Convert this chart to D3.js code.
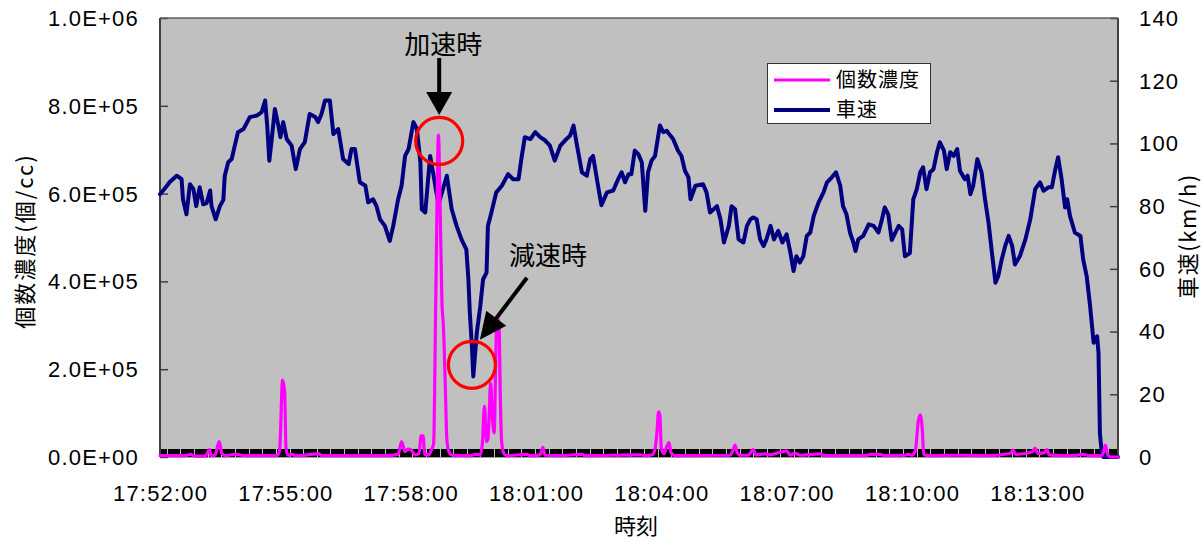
<!DOCTYPE html>
<html>
<head>
<meta charset="utf-8">
<script src="https://cdn.jsdelivr.net/npm/d3@7"></script>
<style>
  html, body { margin: 0; padding: 0; background: #fff; }
  svg { display: block; }
  .num { font-family: "Liberation Sans", Arial, sans-serif; font-size: 22px; fill: #000; letter-spacing: 1.2px; }
  .jp { font-family: "Noto Sans CJK JP", sans-serif; fill: #000; }
</style>
</head>
<body>
<svg id="chart" width="1202" height="541"></svg>
<script>
// Time axis: seconds elapsed since 17:52:00
const timeLabels = ["17:52:00", "17:55:00", "17:58:00", "18:01:00", "18:04:00", "18:07:00", "18:10:00", "18:13:00"];
const timeLabelSec = [0, 180, 360, 540, 720, 900, 1080, 1260];
const concTicks = [0, 2e5, 4e5, 6e5, 8e5, 1e6];
const speedTicks = [0, 20, 40, 60, 80, 100, 120, 140];

// Vehicle speed (km/h)
const speedSec = [0, 10, 14, 24, 31, 33, 38, 43, 48, 52, 57, 62, 67, 72, 74, 80, 86, 91, 93, 98, 103, 105, 112, 120, 129, 139, 146, 151, 154, 157, 160, 165, 170, 173, 177, 182, 189, 195, 201, 208, 215, 223, 227, 232, 237, 244, 249, 256, 263, 271, 275, 280, 287, 295, 299, 306, 311, 316, 323, 330, 335, 342, 347, 352, 357, 364, 369, 374, 376, 381, 388, 393, 397, 400, 405, 412, 419, 426, 433, 440, 443, 445, 448, 450, 455, 460, 464, 469, 471, 476, 483, 491, 500, 507, 515, 519, 524, 532, 539, 546, 553, 560, 567, 575, 582, 589, 594, 599, 606, 613, 618, 622, 630, 634, 642, 651, 658, 663, 668, 673, 677, 682, 687, 692, 697, 701, 706, 711, 718, 723, 728, 733, 737, 744, 749, 754, 759, 762, 769, 780, 785, 790, 800, 805, 810, 817, 821, 826, 831, 838, 843, 848, 852, 857, 862, 867, 871, 877, 882, 888, 894, 900, 905, 910, 914, 919, 924, 929, 934, 939, 946, 953, 958, 965, 971, 977, 981, 986, 991, 996, 999, 1003, 1010, 1018, 1025, 1032, 1037, 1041, 1046, 1051, 1061, 1066, 1070, 1077, 1082, 1087, 1092, 1096, 1101, 1106, 1111, 1116, 1120, 1126, 1130, 1135, 1140, 1145, 1149, 1156, 1160, 1164, 1168, 1174, 1180, 1185, 1190, 1195, 1200, 1204, 1209, 1214, 1219, 1224, 1228, 1235, 1243, 1250, 1257, 1264, 1269, 1276, 1281, 1286, 1290, 1295, 1300, 1303, 1307, 1314, 1322, 1326, 1331, 1336, 1341, 1346, 1348, 1350, 1353, 1355, 1376];
const speedKmh = [83.8, 86.5, 87.7, 89.7, 88.6, 82.2, 77.4, 87, 85.4, 80, 86, 80.6, 81, 85, 80, 75.8, 80, 82, 89.7, 94, 95, 97, 103.6, 104.6, 108.4, 108.9, 110, 113.7, 105.7, 94.5, 100.4, 111, 105.7, 102, 106.8, 101.4, 99.3, 91.8, 98.2, 100.4, 109.4, 108.4, 106.8, 109.4, 113.7, 113.7, 103, 104.6, 95, 93.4, 98.2, 98.2, 87.6, 86.5, 81.2, 82.2, 80, 75.8, 73.7, 68.9, 73.7, 82.2, 86.5, 96, 98.2, 106.8, 104.6, 94, 79, 78, 96, 89.7, 84.4, 80.6, 84.4, 89.7, 79, 73.7, 69.4, 66.2, 56.6, 46, 35.3, 25.7, 39.6, 48, 56.6, 58.8, 73.7, 78, 84.4, 86.5, 90.2, 88.6, 88.6, 95, 102, 101.4, 103.6, 102, 101, 99.3, 94.5, 99.3, 101, 102.5, 105.7, 99.3, 90.8, 89.7, 95, 96, 85.4, 80.3, 84.4, 85, 88.6, 90.8, 87.6, 90.2, 90.2, 97.7, 96.6, 94, 78.5, 90.8, 94.5, 96, 105.7, 103.6, 104, 102.5, 101.4, 97.7, 96, 91.3, 89.2, 82.2, 86.5, 87, 84.4, 78, 80, 75.8, 68.4, 73.7, 80, 79, 69.4, 68.4, 73.7, 75.8, 76.4, 75.8, 69.4, 67.3, 69.4, 73.7, 69.4, 72.1, 68.4, 71, 65.7, 59.3, 64, 62, 64, 70.5, 71.6, 76.9, 81.2, 84.4, 87.6, 89.2, 90.8, 86.5, 80, 77.4, 71.6, 68.4, 65.7, 69.4, 70.5, 74.2, 73.7, 71.6, 75.8, 79.6, 77.4, 69.2, 73.7, 72.6, 64, 65, 82.2, 85.4, 90.8, 92.4, 85.4, 90.8, 91.8, 97.2, 100.4, 97.7, 91.8, 97.2, 96, 98.2, 91.3, 88.6, 89.7, 83.8, 86.5, 95, 90.8, 82.2, 74.8, 65, 55.6, 57.7, 63, 67.3, 70.5, 67.3, 61.4, 64, 69.4, 75.8, 85.4, 87.6, 84.9, 86, 86, 91.8, 95.6, 88.6, 79.6, 82.2, 76.9, 71.6, 70.5, 63, 57.7, 48, 36.4, 38.5, 33.2, 7.6, 0.6, 0, 0];

// Particle number concentration (particles/cc)
const concSec = [0, 36, 44, 50, 65, 71, 73, 79, 85, 89, 93, 108, 122, 151, 169, 172, 176, 179, 181, 184, 190, 195, 228, 233, 313, 323, 342, 347, 352, 356, 361, 366, 372, 375, 378, 380, 386, 390, 393, 396, 400, 402, 405, 407, 410, 412, 415, 420, 445, 454, 460, 463, 466, 469, 471, 475, 477, 480, 482, 484, 487, 489, 491, 494, 498, 527, 532, 546, 550, 553, 575, 606, 611, 690, 697, 707, 711, 714, 716, 718, 720, 724, 727, 731, 734, 740, 819, 822, 826, 829, 833, 845, 852, 856, 869, 876, 900, 905, 912, 919, 948, 955, 1013, 1020, 1034, 1041, 1070, 1075, 1080, 1085, 1089, 1092, 1095, 1097, 1106, 1149, 1185, 1221, 1225, 1229, 1253, 1257, 1261, 1270, 1274, 1277, 1314, 1324, 1336, 1352, 1355, 1358, 1361, 1365, 1376];
const concVal = [3000, 3000, 6000, 2000, 2000, 17000, 3000, 4000, 35000, 8000, 3000, 6000, 3000, 3000, 4000, 20000, 175000, 150000, 20000, 4000, 6000, 3000, 7000, 3000, 3000, 3000, 6000, 35000, 12000, 18000, 16000, 5000, 8000, 48000, 48000, 6000, 5000, 17000, 30000, 350000, 733000, 600000, 350000, 300000, 150000, 40000, 12000, 4000, 3000, 6000, 5000, 30000, 116000, 35000, 40000, 168000, 100000, 55000, 200000, 320000, 300000, 120000, 30000, 8000, 3000, 6000, 3000, 5000, 22000, 4000, 3000, 6000, 3000, 5000, 3000, 5000, 18000, 60000, 103000, 95000, 20000, 8000, 20000, 33000, 10000, 3000, 4000, 12000, 27000, 10000, 4000, 4000, 17000, 5000, 7000, 5000, 14000, 4000, 9000, 4000, 7000, 3000, 3000, 6000, 6000, 3000, 4000, 6000, 4000, 15000, 80000, 96000, 60000, 5000, 3000, 4000, 3000, 8000, 16000, 6000, 12000, 20000, 8000, 10000, 17000, 5000, 3000, 6000, 3000, 3000, 10000, 27000, 6000, 0, 0];

const plot = { left: 160, right: 1118, top: 18, bottom: 457 };
const svg = d3.select("#chart");

const x = d3.scaleLinear().domain([0, 1376]).range([plot.left, plot.right]);
const yConc = d3.scaleLinear().domain([0, 1e6]).range([plot.bottom, plot.top]);
const ySpeed = d3.scaleLinear().domain([0, 140]).range([plot.bottom, plot.top]);

const sci = v => {
  if (v === 0) return "0.0E+00";
  const e = Math.floor(Math.log10(v));
  const m = v / Math.pow(10, e);
  return m.toFixed(1) + "E+" + String(e).padStart(2, "0");
};

// plot area
svg.append("rect")
  .attr("x", plot.left).attr("y", plot.top)
  .attr("width", plot.right - plot.left).attr("height", plot.bottom - plot.top)
  .attr("fill", "#c0c0c0");

// dense category ticks along the time axis
const catStep = 1.55;
const xTickAxis = d3.axisBottom(x)
  .tickValues(d3.range(0, 1376, catStep))
  .tickSize(-8).tickFormat("");
const gx = svg.append("g").attr("transform", `translate(0,${plot.bottom})`).call(xTickAxis);
gx.selectAll("line").attr("stroke", "#000").attr("shape-rendering", "crispEdges");
gx.select(".domain").attr("stroke", "#a0a0a0");

// value axis ticks (pointing inside)
const gl = svg.append("g").attr("transform", `translate(${plot.left},0)`)
  .call(d3.axisLeft(yConc).tickValues(concTicks).tickSize(-8).tickFormat(""));
gl.selectAll("line").attr("stroke", "#404040").attr("stroke-width", 1.5);
gl.select(".domain").remove();

const gr = svg.append("g").attr("transform", `translate(${plot.right},0)`)
  .call(d3.axisRight(ySpeed).tickValues(speedTicks).tickSize(-8).tickFormat(""));
gr.selectAll("line").attr("stroke", "#404040").attr("stroke-width", 1.5);
gr.select(".domain").remove();

// frame lines
svg.append("line").attr("x1", plot.left).attr("x2", plot.left).attr("y1", plot.top).attr("y2", plot.bottom)
  .attr("stroke", "#404040").attr("stroke-width", 2);
svg.append("line").attr("x1", plot.right).attr("x2", plot.right).attr("y1", plot.top).attr("y2", plot.bottom)
  .attr("stroke", "#404040").attr("stroke-width", 2);
svg.append("line").attr("x1", plot.left).attr("x2", plot.right).attr("y1", plot.top).attr("y2", plot.top)
  .attr("stroke", "#606060").attr("stroke-width", 1.5);

// series
const speedData = speedSec.map((s, i) => [s, speedKmh[i]]);
const concData = concSec.map((s, i) => [s, concVal[i]]);

svg.append("path").datum(speedData)
  .attr("fill", "none").attr("stroke", "#000080").attr("stroke-width", 4)
  .attr("stroke-linejoin", "round").attr("stroke-linecap", "round")
  .attr("d", d3.line().x(d => x(d[0])).y(d => ySpeed(d[1])));

svg.append("path").datum(concData)
  .attr("fill", "none").attr("stroke", "#ff00ff").attr("stroke-width", 3.2)
  .attr("stroke-linejoin", "round").attr("stroke-linecap", "round")
  .attr("d", d3.line().curve(d3.curveMonotoneX).x(d => x(d[0])).y(d => yConc(d[1])));

// tick labels
svg.append("g").selectAll("text").data(concTicks).join("text")
  .attr("class", "num").attr("text-anchor", "end")
  .attr("x", plot.left - 21).attr("y", d => yConc(d)).attr("dy", "0.36em")
  .text(sci);

svg.append("g").selectAll("text").data(speedTicks).join("text")
  .attr("class", "num").attr("text-anchor", "start")
  .attr("x", plot.right + 21).attr("y", d => ySpeed(d)).attr("dy", "0.36em")
  .text(d => d);

svg.append("g").selectAll("text").data(timeLabels).join("text")
  .attr("class", "num").attr("text-anchor", "middle")
  .attr("x", (d, i) => x(timeLabelSec[i]) + 0.6).attr("y", 493).attr("dy", "0.36em")
  .text(d => d);

// axis titles
svg.append("text").attr("class", "jp").attr("font-size", 22)
  .attr("text-anchor", "middle").attr("x", 636).attr("y", 526).attr("dy", "0.36em")
  .text("時刻");

svg.append("text").attr("class", "jp").attr("font-size", 22).attr("letter-spacing", "2px")
  .attr("text-anchor", "middle").attr("dy", "0.36em")
  .attr("transform", "translate(25,241) rotate(-90)")
  .text("個数濃度(個/cc)");

svg.append("text").attr("class", "jp").attr("font-size", 22).attr("letter-spacing", "1.5px")
  .attr("text-anchor", "middle").attr("dy", "0.36em")
  .attr("transform", "translate(1188,236) rotate(-90)")
  .text("車速(km/h)");

// legend
const lg = svg.append("g");
lg.append("rect").attr("x", 767.5).attr("y", 63.5).attr("width", 163).attr("height", 60)
  .attr("fill", "#fff").attr("stroke", "#333").attr("stroke-width", 1);
const legendItems = [
  { name: "個数濃度", color: "#ff00ff", w: 3.2 },
  { name: "車速", color: "#000080", w: 4 }
];
legendItems.forEach((it, i) => {
  const yy = 80 + i * 30;
  lg.append("line").attr("x1", 774).attr("x2", 830).attr("y1", yy).attr("y2", yy)
    .attr("stroke", it.color).attr("stroke-width", it.w);
  lg.append("text").attr("class", "jp").attr("font-size", 20).attr("letter-spacing", "1px")
    .attr("x", 836).attr("y", yy).attr("dy", "0.36em").text(it.name);
});

// annotations
const ann = svg.append("g");
const accel = { x: x(401), y: yConc(7.2e5) };
const decel = { x: x(448), y: ySpeed(29.4) };

[accel, decel].forEach(c => {
  ann.append("circle").attr("cx", c.x).attr("cy", c.y).attr("r", 23.5)
    .attr("fill", "none").attr("stroke", "#ff0000").attr("stroke-width", 3.2);
});

function arrow(x1, y1, x2, y2, headLen, headHalf) {
  const dx = x2 - x1, dy = y2 - y1, L = Math.hypot(dx, dy);
  const ux = dx / L, uy = dy / L;
  const bx = x2 - ux * headLen, by = y2 - uy * headLen;
  ann.append("line").attr("x1", x1).attr("y1", y1).attr("x2", bx + ux * 2).attr("y2", by + uy * 2)
    .attr("stroke", "#000").attr("stroke-width", 4);
  ann.append("path")
    .attr("d", `M${x2},${y2}L${bx - uy * headHalf},${by + ux * headHalf}L${bx + uy * headHalf},${by - ux * headHalf}Z`)
    .attr("fill", "#000");
}
arrow(accel.x, 58, accel.x, accel.y - 26, 23, 13);
arrow(decel.x + 55, decel.y - 87, decel.x + 8, decel.y - 25, 27, 12.5);

ann.append("text").attr("class", "jp").attr("font-size", 26).attr("text-anchor", "middle")
  .attr("x", accel.x + 4).attr("y", 45).attr("dy", "0.36em").text("加速時");
ann.append("text").attr("class", "jp").attr("font-size", 26).attr("text-anchor", "middle")
  .attr("x", decel.x + 76).attr("y", 256).attr("dy", "0.36em").text("減速時");
</script>
</body>
</html>
